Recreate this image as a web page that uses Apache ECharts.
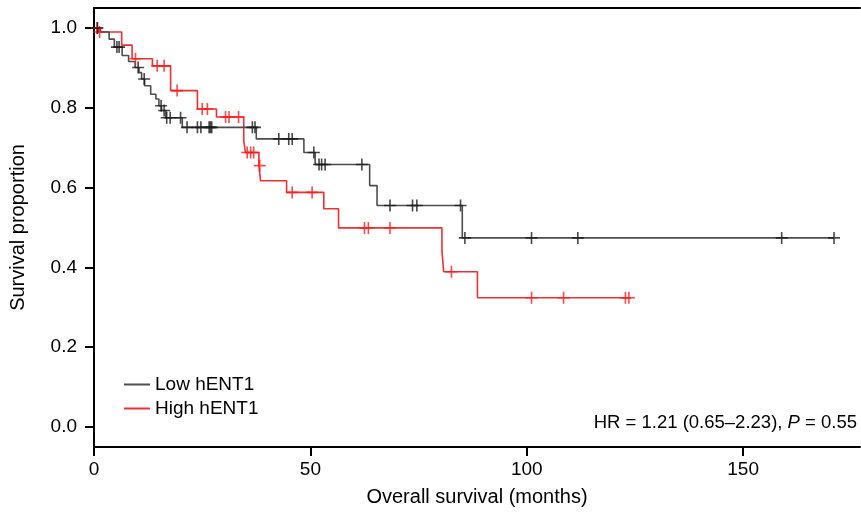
<!DOCTYPE html>
<html>
<head>
<meta charset="utf-8">
<script src="https://cdn.jsdelivr.net/npm/echarts@6/dist/echarts.min.js"></script>
<style>
  html, body { margin: 0; padding: 0; background: #fff; }
  #chart { width: 861px; height: 513px; }
</style>
</head>
<body>
<div id="chart"></div>
<script>
// ---- Data ----
// Low hENT1: event times (months) and survival after each event
const lowTimes = [0, 1.5, 3.5, 4.7, 6.5, 8.0, 9.5, 10.4, 11.0, 11.7, 13.1, 14.3, 15.0, 15.6, 16.6, 20.4, 37.5, 48.5, 51.1, 63.7, 65.4, 85.1];
const lowSurv  = [1.0, 0.99, 0.972, 0.952, 0.931, 0.916, 0.901, 0.888, 0.872, 0.855, 0.834, 0.822, 0.805, 0.793, 0.775, 0.751, 0.722, 0.688, 0.658, 0.605, 0.555, 0.474];
const lowEnd = 171.0;
const lowCensor = [0.8, 5.3, 5.8, 10.2, 11.6, 15.5, 16.2, 16.8, 17.6, 20.0, 21.5, 23.9, 24.7, 26.6, 26.9, 27.2, 36.6, 37.2, 42.7, 45.0, 45.8, 50.8, 52.0, 52.6, 53.4, 61.9, 68.4, 73.6, 74.6, 84.7, 85.7, 101.1, 111.8, 158.9, 171.0];

// High hENT1
const highTimes = [0, 1.0, 6.4, 8.8, 13.5, 17.7, 23.9, 28.3, 34.6, 35.0, 38.1, 38.5, 44.5, 53.1, 56.5, 80.4, 80.8, 88.6];
const highSurv  = [1.0, 0.99, 0.957, 0.923, 0.905, 0.843, 0.797, 0.777, 0.718, 0.688, 0.655, 0.617, 0.588, 0.547, 0.499, 0.442, 0.389, 0.324];
const highEnd = 124.0;
const highCensor = [0.7, 1.3, 9.6, 14.6, 16.2, 19.2, 25.0, 26.2, 30.4, 31.2, 33.4, 35.4, 36.2, 36.9, 38.3, 45.8, 50.4, 62.5, 63.4, 68.4, 82.6, 101.1, 108.5, 122.8, 123.6];

const xTicks = [0, 50, 100, 150];
const yTicks = [0, 0.2, 0.4, 0.6, 0.8, 1.0];

// ---- Helpers ----
function stepLine(times, surv, end) {
  const pts = times.map((t, i) => [t, surv[i]]);
  pts.push([end, surv[surv.length - 1]]);
  return pts;
}
function survAt(times, surv, t) {
  let s = surv[0];
  for (let i = 0; i < times.length; i++) { if (times[i] <= t) s = surv[i]; }
  return s;
}
function censorPts(times, surv, cens) {
  return cens.map(t => [t, survAt(times, surv, t)]);
}

const plusPath = 'path://M5.2,0 H6.8 V5.2 H12 V6.8 H6.8 V12 H5.2 V6.8 H0 V5.2 H5.2 Z';
const FONT = '"Liberation Sans", Arial, Helvetica, sans-serif';
const lowColor = '#4d4d4d';
const highColor = '#f03030';

const chart = echarts.init(document.getElementById('chart'), null, { renderer: 'canvas' });
chart.setOption({
  animation: false,
  backgroundColor: '#fff',
  textStyle: { fontFamily: FONT },
  grid: { left: 93, right: 1, top: 8, bottom: 66 },
  legend: {
    orient: 'vertical',
    left: 119, top: 370,
    itemWidth: 26, itemHeight: 2, itemGap: 5,
    icon: 'rect',
    textStyle: { fontFamily: FONT, fontSize: 19, color: '#000' },
    data: ['Low hENT1', 'High hENT1']
  },
  xAxis: [{
    type: 'value', min: 0, max: 177,
    axisLine: { show: true, onZero: false, lineStyle: { color: '#000', width: 2 } },
    axisTick: { show: true, length: 9, lineStyle: { color: '#000', width: 2 }, customValues: xTicks },
    axisLabel: { fontFamily: FONT, fontSize: 19, color: '#000', margin: 13, customValues: xTicks },
    splitLine: { show: false },
    name: 'Overall survival (months)', nameLocation: 'middle', nameGap: 40,
    nameTextStyle: { fontFamily: FONT, fontSize: 20, color: '#000' }
  }, {
    type: 'value', min: 0, max: 177, position: 'top',
    axisLine: { show: true, onZero: false, lineStyle: { color: '#000', width: 2 } },
    axisTick: { show: false }, axisLabel: { show: false }, splitLine: { show: false }
  }],
  yAxis: {
    type: 'value', min: -0.05, max: 1.05,
    axisLine: { show: true, onZero: false, lineStyle: { color: '#000', width: 2 } },
    axisTick: { show: true, length: 9, lineStyle: { color: '#000', width: 2 }, customValues: yTicks },
    axisLabel: { fontFamily: FONT, fontSize: 19, color: '#000', margin: 17, customValues: yTicks,
      formatter: v => Number(v).toFixed(1) },
    splitLine: { show: false },
    name: 'Survival proportion', nameLocation: 'middle', nameGap: 66, nameRotate: 90,
    nameTextStyle: { fontFamily: FONT, fontSize: 20, color: '#000' }
  },
  series: [
    { name: 'Low hENT1', type: 'line', step: 'end', symbol: 'none',
      data: stepLine(lowTimes, lowSurv, lowEnd),
      lineStyle: { color: lowColor, width: 1.6 }, itemStyle: { color: lowColor }, z: 3 },
    { name: 'High hENT1', type: 'line', step: 'end', symbol: 'none',
      data: stepLine(highTimes, highSurv, highEnd),
      lineStyle: { color: highColor, width: 1.6 }, itemStyle: { color: highColor }, z: 2 },
    { name: 'Low hENT1 censored', type: 'scatter', symbol: plusPath, symbolSize: 12,
      data: censorPts(lowTimes, lowSurv, lowCensor),
      itemStyle: { color: '#1a1a1a' }, z: 5 },
    { name: 'High hENT1 censored', type: 'scatter', symbol: plusPath, symbolSize: 12,
      data: censorPts(highTimes, highSurv, highCensor),
      itemStyle: { color: '#ff1a1a' }, z: 4 }
  ],
  graphic: [{
    type: 'text', right: 4, top: 413,
    style: {
      text: '{n|HR = 1.21 (0.65–2.23), }{i|P}{n| = 0.55}',
      rich: {
        n: { fontFamily: FONT, fontSize: 18.5, fill: '#000' },
        i: { fontFamily: FONT, fontSize: 18.5, fontStyle: 'italic', fill: '#000' }
      }
    }
  }]
});
</script>
</body>
</html>
